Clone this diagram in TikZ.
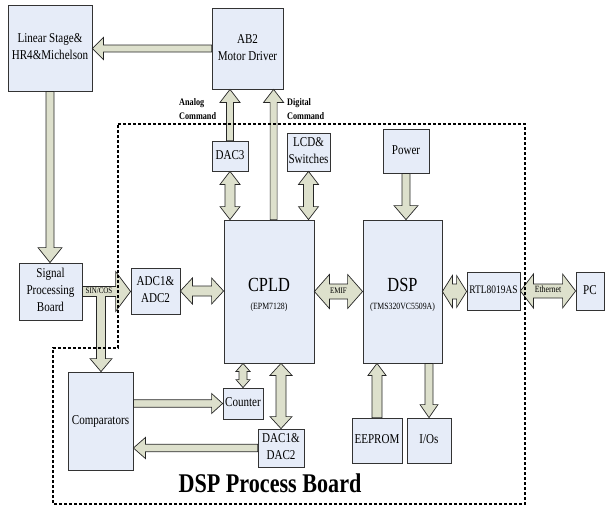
\documentclass[tikz,border=0pt]{standalone}
\usepackage{fontspec}
\usepackage{graphicx}
\setmainfont{Liberation Serif}
\usetikzlibrary{calc}

\definecolor{boxfill}{RGB}{230,236,248}
\definecolor{arrowfill}{RGB}{221,224,204}

% narrow text, lines centred
\newcommand{\nar}[1]{\scalebox{0.82}[1]{\begin{tabular}{@{}c@{}}#1\end{tabular}}}

\tikzset{
  blk/.style={draw=black!80, fill=boxfill, line width=0.8pt, inner sep=1pt, align=center, font=\fontsize{13.5}{17}\selectfont},
  arr/.style={draw=black!85, fill=arrowfill, line width=0.7pt, line join=miter},
  lbl/.style={inner sep=0pt, font=\fontsize{8.5}{9}\selectfont},
  cmd/.style={inner sep=0pt, font=\bfseries\fontsize{10}{14}\selectfont},
  board/.style={line width=1.6pt, dash pattern=on 3pt off 2pt}
}

% block arrow: start, end, body half-width, head half-width, head length
\newcommand{\blockarr}[5]{%
  \filldraw[arr] ($(#1)!#3!-90:(#2)$) -- ($(#2)!#5!(#1)!#3!90:(#1)$) -- ($(#2)!#5!(#1)!#4!90:(#1)$) -- (#2)
    -- ($(#2)!#5!(#1)!#4!-90:(#1)$) -- ($(#2)!#5!(#1)!#3!-90:(#1)$) -- ($(#1)!#3!90:(#2)$) -- cycle;}

% same, with a head at both ends
\newcommand{\blockdarr}[5]{%
  \filldraw[arr] (#2) -- ($(#2)!#5!(#1)!#4!90:(#1)$) -- ($(#2)!#5!(#1)!#3!90:(#1)$)
    -- ($(#1)!#5!(#2)!#3!-90:(#2)$) -- ($(#1)!#5!(#2)!#4!-90:(#2)$) -- (#1)
    -- ($(#1)!#5!(#2)!#4!90:(#2)$) -- ($(#1)!#5!(#2)!#3!90:(#2)$)
    -- ($(#2)!#5!(#1)!#3!-90:(#1)$) -- ($(#2)!#5!(#1)!#4!-90:(#1)$) -- cycle;}

\begin{document}
\begin{tikzpicture}[x=1pt,y=-1pt]

\useasboundingbox (0,0) rectangle (605,506);

%
%blocks
%

\node[blk, minimum width=84pt, minimum height=86pt] (stage) at (50,48) {\nar{Linear Stage\&\\HR4\&Michelson}};
\node[blk, minimum width=71pt, minimum height=81pt] (ab2) at (247.5,48.5) {\nar{AB2\\Motor Driver}};
\node[blk, minimum width=63pt, minimum height=57pt] (spb) at (50.5,291.5) {\nar{Signal\\Processing\\Board}};
\node[blk, minimum width=49pt, minimum height=46pt] (adc) at (155.5,291) {\nar{ADC1\&\\ADC2}};
\node[blk, minimum width=90pt, minimum height=143pt] (cpld) at (269,291.5) {\raisebox{-5pt}[\height][\depth]{\nar{{\fontsize{20}{20}\selectfont CPLD}\\[1pt]{\fontsize{9.5}{10}\selectfont (EPM7128)}}}};
\node[blk, minimum width=79pt, minimum height=143pt] (dsp) at (402.5,291.5) {\raisebox{-5pt}[\height][\depth]{\nar{{\fontsize{20}{20}\selectfont DSP}\\[1pt]{\fontsize{9.5}{10}\selectfont (TMS320VC5509A)}}}};
\node[blk, minimum width=53pt, minimum height=38pt, font=\fontsize{11.5}{14}\selectfont] (rtl) at (493.5,291) {\nar{RTL8019AS}};
\node[blk, minimum width=28pt, minimum height=38pt] (pc) at (590,291) {\nar{PC}};
\node[blk, minimum width=36pt, minimum height=30pt] (dac3) at (230,156) {\nar{DAC3}};
\node[blk, minimum width=43pt, minimum height=38pt] (lcd) at (308.5,152) {\nar{LCD\&\\Switches}};
\node[blk, minimum width=46pt, minimum height=44pt] (power) at (406,151) {\nar{Power}};
\node[blk, minimum width=50pt, minimum height=45pt] (eeprom) at (377,440.5) {\nar{EEPROM}};
\node[blk, minimum width=44pt, minimum height=45pt] (ios) at (429,440.5) {\nar{I/Os}};
\node[blk, minimum width=65pt, minimum height=98pt] (comp) at (100.5,421) {\nar{Comparators}};
\node[blk, minimum width=40pt, minimum height=31pt] (counter) at (243,403.5) {\nar{Counter}};
\node[blk, minimum width=46pt, minimum height=38pt] (dac12) at (281,448) {\nar{DAC1\&\\DAC2}};

%
%arrows
%

\blockarr{ab2.west}{ab2.west -| stage.east}{3.5pt}{11pt}{11pt} %driver to stage
\blockarr{stage.south}{stage.south |- spb.north}{4pt}{12pt}{15pt} %stage to signal board

\coordinate (split) at (101,292); %sin/cos branch
\blockarr{split}{split |- comp.north}{4.5pt}{11pt}{13pt}
\blockarr{spb.east}{spb.east -| adc.west}{5pt}{20pt}{15pt}
\fill[arrowfill] ($(split)+(-3.8,4.2)$) rectangle ($(split)+(3.8,6)$); % open the joint
\node[lbl] (sincos) at (99,292) {\nar{SIN/COS}};

\blockdarr{adc.east}{adc.east -| cpld.west}{5pt}{13pt}{12pt}
\blockdarr{cpld.east}{cpld.east -| dsp.west}{7.5pt}{17pt}{15pt}
\node[lbl] (emif) at ($(cpld.east)!0.5!(dsp.west)$) {\nar{EMIF}};
\blockdarr{dsp.east}{dsp.east -| rtl.west}{7.5pt}{16pt}{10pt}
\blockdarr{rtl.east}{rtl.east -| pc.west}{7pt}{17pt}{13pt}
\node[lbl, font=\fontsize{9.5}{9.5}\selectfont] (eth) at ($(rtl.east)!0.5!(pc.west)$) {\nar{Ethernet}};

\coordinate (digout) at ($(cpld.north west)+(50,0)$); %digital command out
\blockarr{dac3.north}{dac3.north |- ab2.south}{3.5pt}{10pt}{13pt}
\blockarr{digout}{digout |- ab2.south}{3.5pt}{10pt}{13pt}
\blockdarr{dac3.south}{dac3.south |- cpld.north}{5pt}{10pt}{13pt}
\blockdarr{lcd.south}{lcd.south |- cpld.north}{5pt}{10pt}{13pt}

\blockarr{power.south}{power.south |- dsp.north}{4pt}{12pt}{14pt}
\blockarr{eeprom.north}{eeprom.north |- dsp.south}{5pt}{9pt}{12pt}
\blockarr{ios.north |- dsp.south}{ios.north}{4pt}{9pt}{13pt}

\blockarr{counter.west -| comp.east}{counter.west}{3.7pt}{10pt}{11pt}
\blockarr{dac12.west}{dac12.west -| comp.east}{3.7pt}{10.5pt}{12pt}
\blockdarr{counter.north |- cpld.south}{counter.north}{4pt}{7pt}{8pt}
\blockdarr{dac12.north |- cpld.south}{dac12.north}{5pt}{11pt}{12pt}

\node[cmd, anchor=west] (analog) at (179,110) {\scalebox{0.82}[1]{\begin{tabular}{@{}l@{}}Analog\\Command\end{tabular}}};
\node[cmd, anchor=west] (digital) at (287,110) {\scalebox{0.82}[1]{\begin{tabular}{@{}l@{}}Digital\\Command\end{tabular}}};

%board outline
\draw[board] (118,124) -- (525,124) -- (525,504) -- (53,504) -- (53,348) -- (118,348) -- cycle;
\node[font=\bfseries\fontsize{27}{27}\selectfont] (title) at (270,487) {\nar{DSP Process Board}};

\end{tikzpicture}
\end{document}
